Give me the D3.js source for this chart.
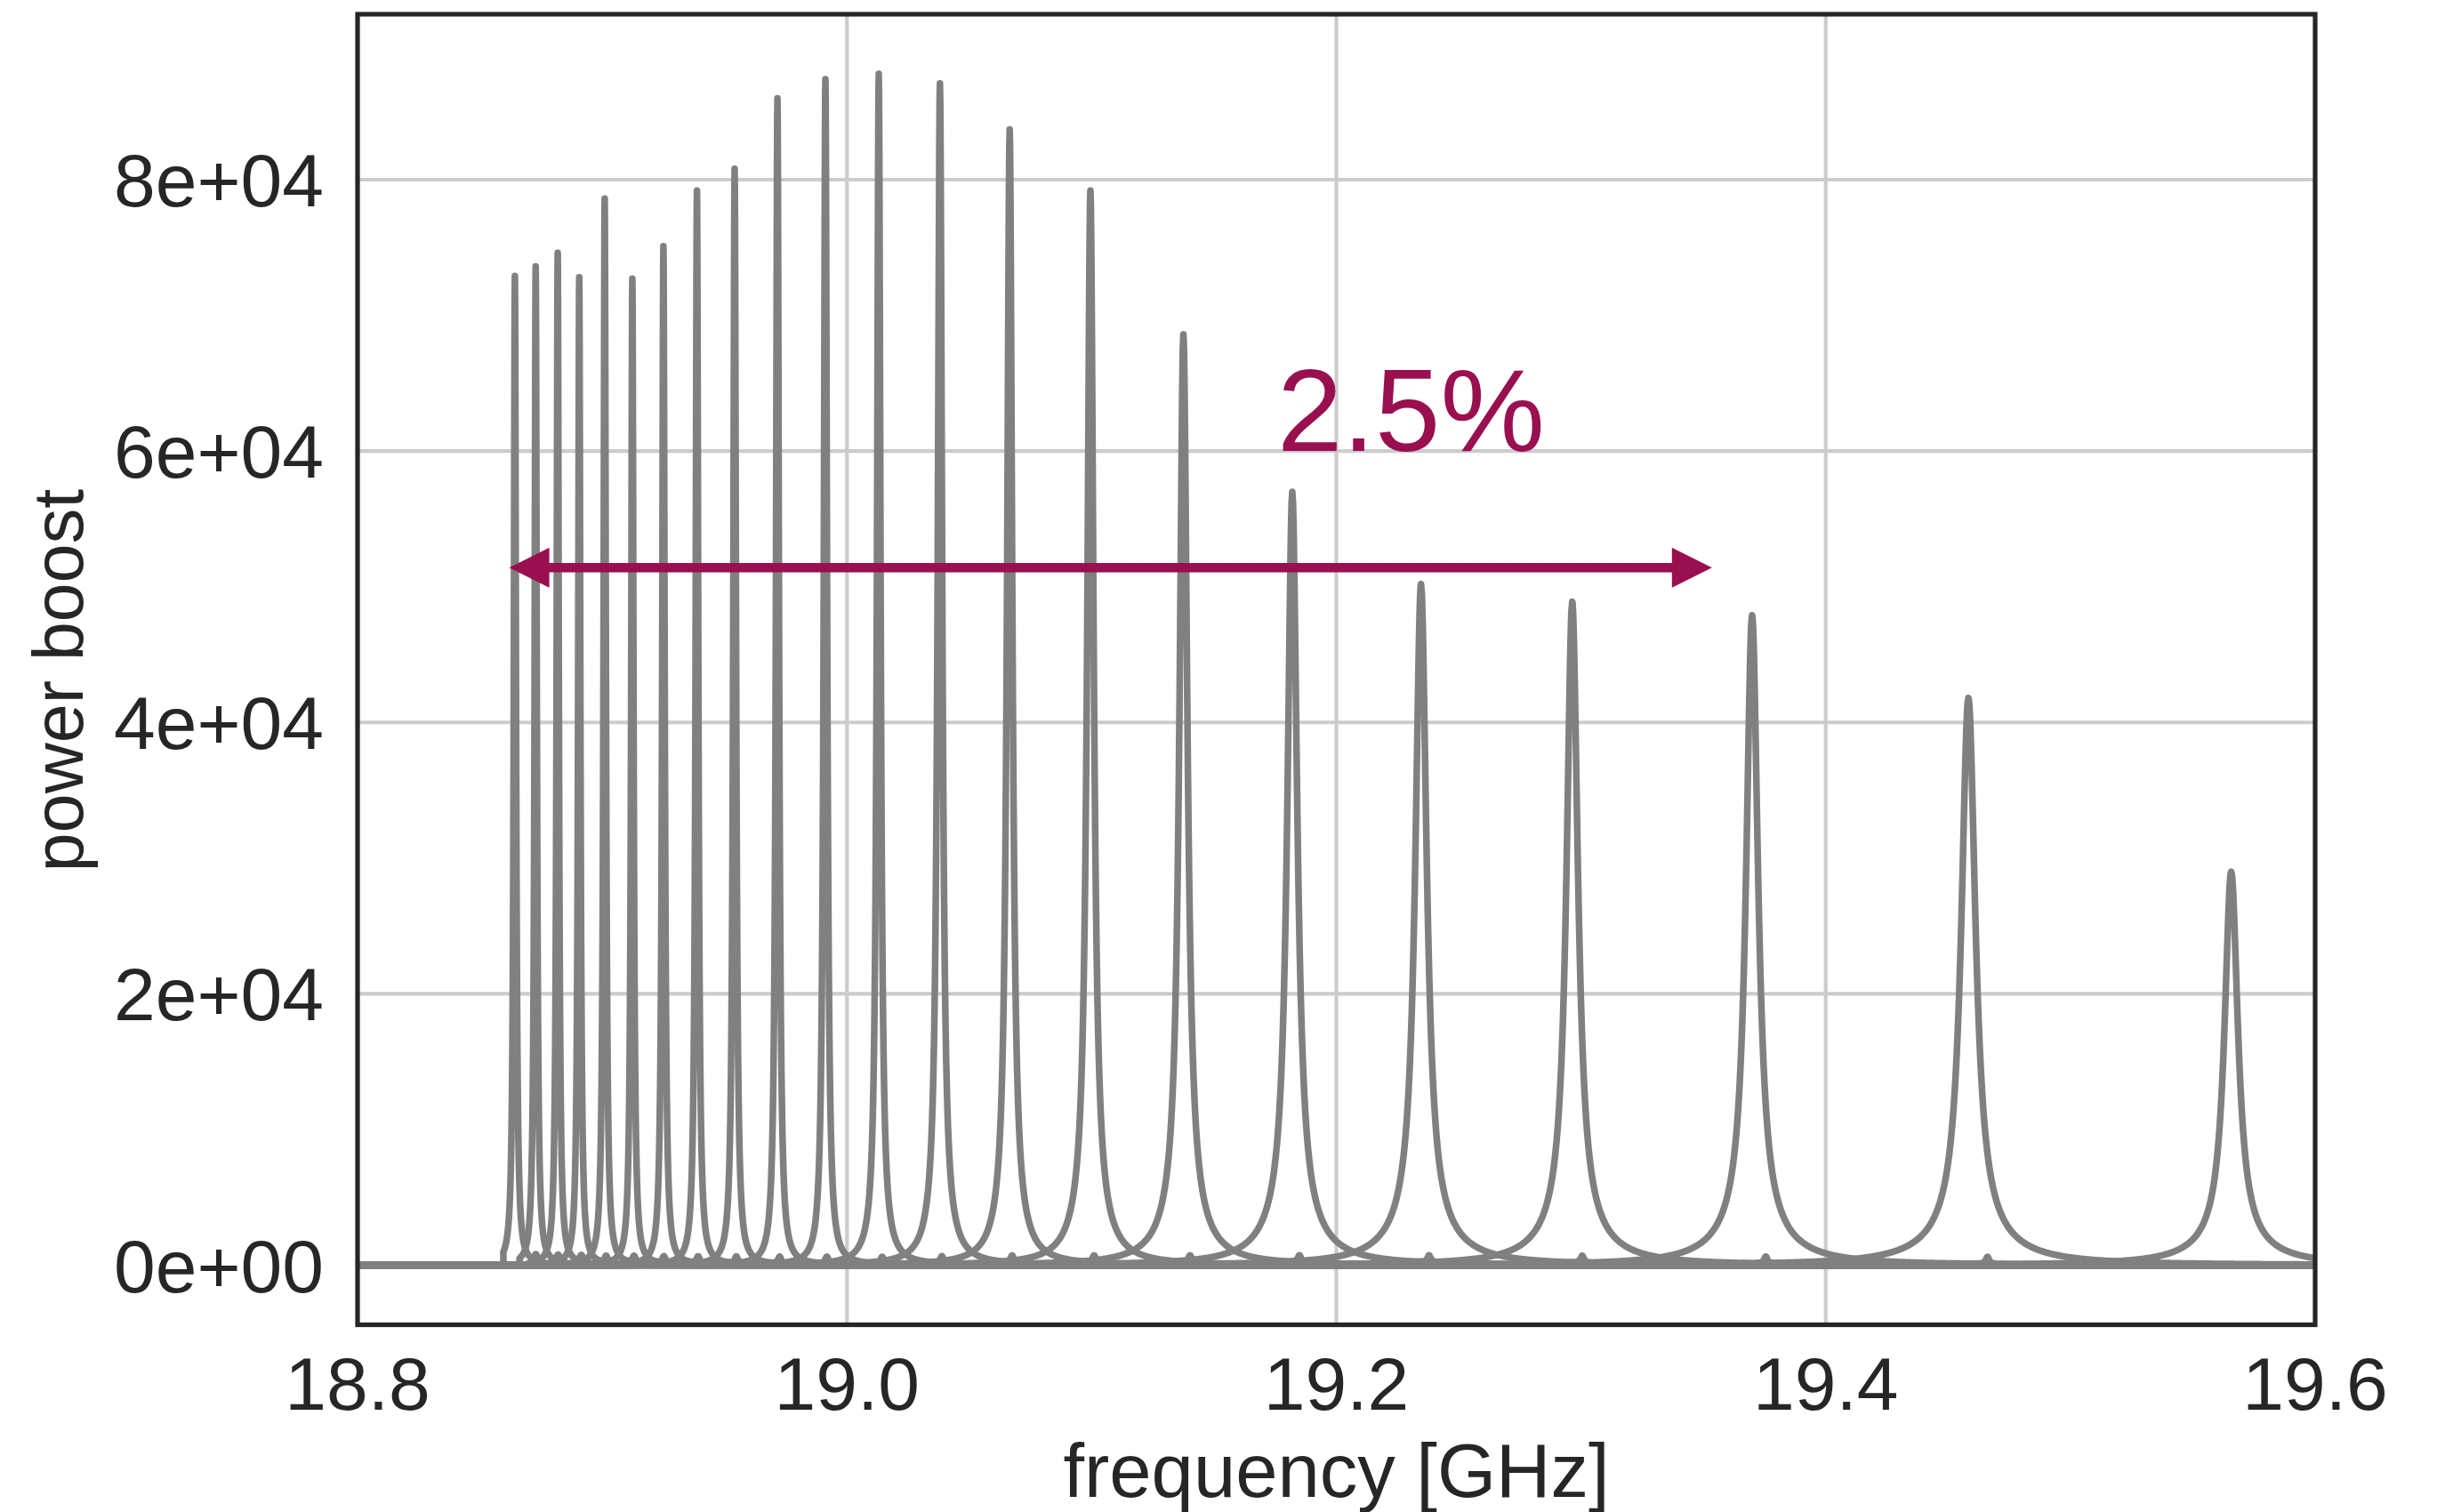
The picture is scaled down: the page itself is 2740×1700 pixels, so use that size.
<!DOCTYPE html>
<html><head><meta charset="utf-8">
<script src="https://cdn.jsdelivr.net/npm/d3@7"></script>
<style>
body{margin:0;background:#fff;}
text{font-family:"Liberation Sans",Arial,Helvetica,sans-serif;}
</style>
</head><body>
<svg id="chart" width="2740" height="1700"></svg>
<script>
// ---- data ----
const peakFreq   = [18.8643,18.8728,18.8818,18.8906,18.9010,18.9123,18.9250,18.9387,18.9541,18.9716,18.9912,
                    19.0130,19.0380,19.0665,19.0995,19.1375,19.1820,19.2346,19.2964,19.3699,19.4583,19.5657];
const peakHeight = [72900,73600,74600,72800,78600,72700,75100,79200,80800,86000,87400,
                    87800,87100,83700,79200,68600,57000,50200,48900,47900,41800,29000];
const peakWidth  = [0.00055,0.00055,0.00055,0.00055,0.00058,0.00058,0.00062,0.00065,0.00069,0.00073,0.00080,
                    0.00087,0.00109,0.00127,0.00153,0.00189,0.00236,0.00273,0.00273,0.00291,0.00345,0.00327];
// low, broad skirt under each resonance (fraction of the peak height, width in GHz)
const skirtFrac  = [0,0,0,0,0,0,0,0,0,0,0,
                    0.02,0.03,0.035,0.04,0.045,0.05,0.05,0.05,0.05,0.05,0.05];
const skirtWidth = [0,0,0,0,0,0,0,0,0,0,0,
                    0.0045,0.0055,0.0064,0.0076,0.0095,0.0118,0.0136,0.0136,0.0145,0.0172,0.0164];
const curveStart = [18.8596,18.8662,18.8700,18.8700,18.8700,18.8700,18.8700,18.8700,18.8700,18.8700,18.8700,
                    18.8700,18.8700,18.8700,18.8700,18.8700,18.8700,18.8700,18.8700,18.8700,18.8700,18.8700];
const bumpFreq   = [18.8729,18.8820,18.8915,18.9016,18.9130,18.9252,18.9392,18.9548,18.9725,18.9918,
                    19.0144,19.0388,19.0675,19.1010,19.1402,19.1849,19.2379,19.3005,19.3755,19.4661];
const bumpHeight = 520;
const bumpWidth  = 0.0008;

const xTicks = [18.8, 19.0, 19.2, 19.4, 19.6];
const xTickLabels = ["18.8", "19.0", "19.2", "19.4", "19.6"];
const yTicks = [0, 20000, 40000, 60000, 80000];
const yTickLabels = ["0e+00", "2e+04", "4e+04", "6e+04", "8e+04"];
const xDomain = [18.8, 19.6];
const yDomain = [-4390, 92190];

const arrowFreq = [18.8620, 19.3535];
const arrowLevel = 51400;
const annotLabel = "2.5%";
const annotPos = [19.1758, 60000];
const xLabel = "frequency [GHz]";
const yLabel = "power boost";

// ---- layout ----
const L = 402, R = 2603, T = 16, B = 1489.5;
const lineColor = "#808080", gridColor = "#cccccc", spineColor = "#262626", accent = "#990f4f";

const svg = d3.select("#chart");
const x = d3.scaleLinear().domain(xDomain).range([L, R]);
const y = d3.scaleLinear().domain(yDomain).range([B, T]);

// grid
const grid = svg.append("g");
grid.selectAll("line.h").data(yTicks).join("line")
  .attr("x1", L).attr("x2", R).attr("y1", d => y(d)).attr("y2", d => y(d))
  .attr("stroke", gridColor).attr("stroke-width", 4.2);
grid.selectAll("line.v").data(xTicks).join("line")
  .attr("y1", T).attr("y2", B).attr("x1", d => x(d)).attr("x2", d => x(d))
  .attr("stroke", gridColor).attr("stroke-width", 4.2);

// curves
svg.append("clipPath").attr("id", "clip").append("rect")
  .attr("x", L).attr("y", T).attr("width", R - L).attr("height", B - T);

function curveValue(i, f) {
  if (f < curveStart[i]) return 0;
  const d = (f - peakFreq[i]) / peakWidth[i];
  const sk = skirtFrac[i] * peakHeight[i];
  let v = (peakHeight[i] - sk) / (1 + d * d);
  if (sk > 0) {
    const s = (f - peakFreq[i]) / skirtWidth[i];
    v += sk / (1 + s * s);
  }
  if (i < bumpFreq.length) {
    const e = (f - bumpFreq[i]) / bumpWidth;
    v += bumpHeight / (1 + e * e);
  }
  return v;
}
function curvePoints(i) {
  const fs = [];
  for (let f = xDomain[0]; f <= xDomain[1] + 1e-9; f += 0.0005) fs.push(f);
  const g = peakWidth[i];
  for (let k = -240; k <= 240; k++) fs.push(peakFreq[i] + k * g / 8);
  if (i < bumpFreq.length) for (let k = -40; k <= 40; k++) fs.push(bumpFreq[i] + k * bumpWidth / 4);
  fs.push(curveStart[i] - 1e-7, curveStart[i]);
  fs.sort((a, b) => a - b);
  return fs.filter(f => f >= xDomain[0] && f <= xDomain[1]).map(f => [f, curveValue(i, f)]);
}
const line = d3.line().x(d => x(d[0])).y(d => y(d[1]));
svg.append("g").attr("clip-path", "url(#clip)")
  .selectAll("path").data(d3.range(peakFreq.length)).join("path")
  .attr("d", i => line(curvePoints(i)))
  .attr("fill", "none").attr("stroke", lineColor).attr("stroke-width", 7.5)
  .attr("stroke-linejoin", "round").attr("stroke-linecap", "round");

// arrow
const ay = y(arrowLevel), ax1 = x(arrowFreq[0]), ax2 = x(arrowFreq[1]);
const hl = 45, hw = 22.5;
const ag = svg.append("g");
ag.append("line").attr("x1", ax1 + hl - 2).attr("x2", ax2 - hl + 2).attr("y1", ay).attr("y2", ay)
  .attr("stroke", accent).attr("stroke-width", 10.5);
ag.append("path").attr("d", `M${ax2},${ay} L${ax2 - hl},${ay - hw} L${ax2 - hl},${ay + hw} Z`).attr("fill", accent);
ag.append("path").attr("d", `M${ax1},${ay} L${ax1 + hl},${ay - hw} L${ax1 + hl},${ay + hw} Z`).attr("fill", accent);
svg.append("text").attr("x", x(annotPos[0])).attr("y", y(annotPos[1]))
  .attr("fill", accent).attr("font-size", 132).text(annotLabel);

// spines
svg.append("rect").attr("x", L).attr("y", T).attr("width", R - L).attr("height", B - T)
  .attr("fill", "none").attr("stroke", spineColor).attr("stroke-width", 5.2);

// tick labels
svg.append("g").selectAll("text").data(xTicks).join("text")
  .attr("x", d => x(d)).attr("y", 1585).attr("text-anchor", "middle")
  .attr("font-size", 84).attr("fill", spineColor).text((d, i) => xTickLabels[i]);
svg.append("g").selectAll("text").data(yTicks).join("text")
  .attr("x", 364).attr("y", d => y(d) + 30).attr("text-anchor", "end")
  .attr("font-size", 84).attr("fill", spineColor).text((d, i) => yTickLabels[i]);

// axis labels
svg.append("text").attr("x", (L + R) / 2).attr("y", 1683).attr("text-anchor", "middle")
  .attr("font-size", 85).attr("fill", spineColor).text(xLabel);
svg.append("text").attr("transform", `translate(93,765) rotate(-90)`).attr("text-anchor", "middle")
  .attr("font-size", 79).attr("fill", spineColor).text(yLabel);
</script>
</body></html>
